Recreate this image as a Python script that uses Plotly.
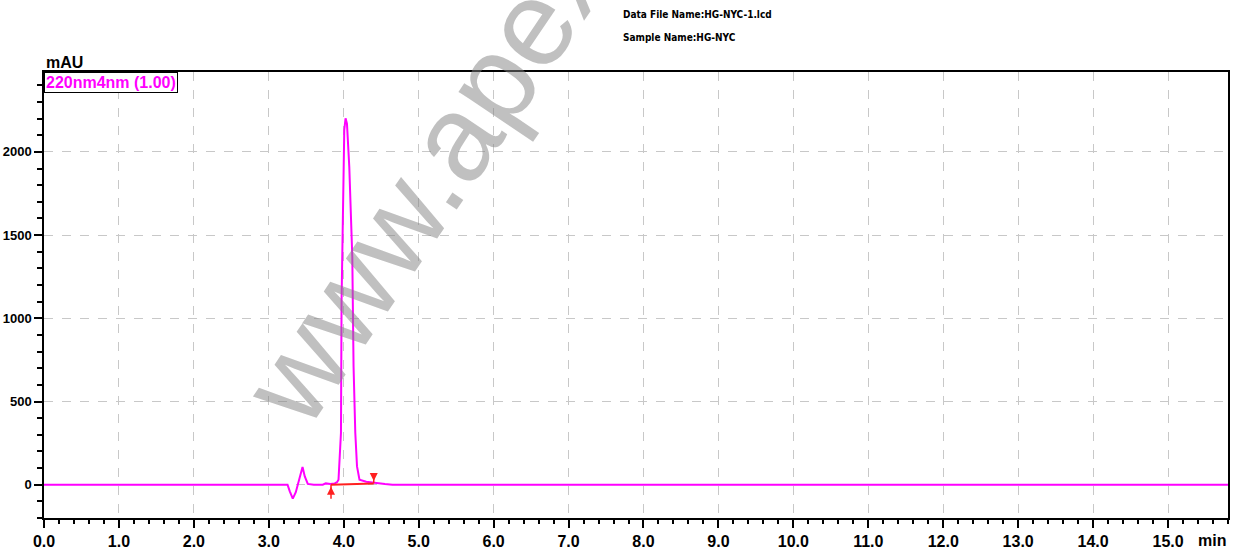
import plotly.graph_objects as go

# ---- data ----
time_min = [0.0, 3.20, 3.25, 3.28, 3.32, 3.36, 3.40, 3.43, 3.45, 3.48, 3.52, 3.60,
            3.72, 3.76, 3.82, 3.88, 3.91, 3.93, 3.963, 3.971, 3.99, 4.007, 4.024,
            4.043, 4.074, 4.114, 4.131, 4.154, 4.177, 4.21, 4.30, 4.42, 4.55, 4.65, 15.8]
absorbance_mau = [0, 0, 0, -40, -84, -45, 30, 85, 106, 50, 5, 0,
                  0, 8, 4, 8, 15, 30, 312, 1110, 1850, 2130, 2202,
                  2170, 1910, 1370, 710, 312, 110, 30, 18, 10, 4, 0, 0]

baseline_t = [3.83, 4.40]
baseline_mau = [0, 8]

x_ticks = [i * 1.0 for i in range(16)]
x_ticklabels = [f"{v:.1f}" for v in x_ticks]
y_ticks = [0, 500, 1000, 1500, 2000]
y_ticklabels = [str(v) for v in y_ticks]

header_lines = ["Data File Name:HG-NYC-1.lcd", "Sample Name:HG-NYC"]
channel_label = "220nm4nm (1.00)"

MAG = "#ff00ff"
RED = "#ff2020"
FONT = "Liberation Sans, Arial, sans-serif"
NARROW = "Liberation Sans Narrow, DejaVu Sans Condensed, Liberation Sans, sans-serif"

fig = go.Figure()

fig.add_trace(go.Scatter(x=time_min, y=absorbance_mau, mode="lines",
                         line=dict(color=MAG, width=2), hoverinfo="skip",
                         showlegend=False))
# integration baseline
fig.add_trace(go.Scatter(x=baseline_t, y=baseline_mau, mode="lines",
                         line=dict(color=RED, width=2), showlegend=False,
                         hoverinfo="skip"))
# peak start marker (arrow up from below), peak end marker (arrow down from above)
fig.add_trace(go.Scatter(x=[baseline_t[0], baseline_t[0]],
                         y=[baseline_mau[0] - 85, baseline_mau[0]],
                         mode="lines", line=dict(color=RED, width=1.5),
                         showlegend=False, hoverinfo="skip"))
fig.add_trace(go.Scatter(x=[baseline_t[1], baseline_t[1]],
                         y=[baseline_mau[1] + 55, baseline_mau[1]],
                         mode="lines", line=dict(color=RED, width=1.5),
                         showlegend=False, hoverinfo="skip"))
fig.add_trace(go.Scatter(x=[baseline_t[0]], y=[baseline_mau[0] - 12], mode="markers",
                         marker=dict(symbol="arrow-up", size=8, color=RED),
                         showlegend=False, hoverinfo="skip"))
fig.add_trace(go.Scatter(x=[baseline_t[1]], y=[baseline_mau[1] + 14], mode="markers",
                         marker=dict(symbol="arrow-down", size=8, color=RED),
                         showlegend=False, hoverinfo="skip"))

fig.update_xaxes(range=[0, 15.8], tickmode="array", tickvals=x_ticks,
                 ticktext=x_ticklabels, ticks="outside", ticklen=8, tickwidth=1.5,
                 tickcolor="black", showline=True, linecolor="black", linewidth=1.5,
                 mirror=True, showgrid=True, gridcolor="#c8c8c8", griddash="dash",
                 gridwidth=1, zeroline=False,
                 tickfont=dict(family=FONT, size=16, color="black", weight="bold"),
                 minor=dict(dtick=0.2, ticks="outside", ticklen=4, tickwidth=1.5,
                            tickcolor="black", showgrid=False))
fig.update_yaxes(range=[-200, 2480], tickmode="array", tickvals=y_ticks,
                 ticktext=y_ticklabels, ticks="outside", ticklen=8, tickwidth=1.5,
                 tickcolor="black", showline=True, linecolor="black", linewidth=1.5,
                 mirror=True, showgrid=True, gridcolor="#c8c8c8", griddash="dash",
                 gridwidth=1, zeroline=False, ticklabelstandoff=0,
                 tickfont=dict(family=FONT, size=13, color="black", weight="bold"),
                 minor=dict(dtick=100, tick0=0, ticks="outside", ticklen=5, tickwidth=1.5,
                            tickcolor="black", showgrid=False))

annotations = [
    dict(text=header_lines[0], x=0.487, y=1.13, xref="paper", yref="paper",
         xanchor="left", yanchor="middle", showarrow=False,
         font=dict(family=NARROW, size=10, color="black", weight="bold")),
    dict(text=header_lines[1], x=0.487, y=1.078, xref="paper", yref="paper",
         xanchor="left", yanchor="middle", showarrow=False,
         font=dict(family=NARROW, size=10, color="black", weight="bold")),
    dict(text="mAU", x=0.0, y=1.0, xref="paper", yref="paper", xanchor="left",
         yanchor="bottom", yshift=-1, showarrow=False,
         font=dict(family=FONT, size=16, color="black", weight="bold")),
    dict(text="min", x=1.0, y=0, xref="paper", yref="paper", xanchor="right",
         yanchor="top", yshift=-12, showarrow=False,
         font=dict(family=FONT, size=16, color="black", weight="bold")),
    dict(text=channel_label, x=0.0, y=1.0, xref="paper", yref="paper",
         xanchor="left", yanchor="top", showarrow=False, bgcolor="white",
         bordercolor="black", borderwidth=1, borderpad=1,
         font=dict(family=FONT, size=16, color=MAG, weight="bold")),
    dict(text="www.apexbt.com", x=0.41, y=1.10, xref="paper", yref="paper",
         xanchor="center", yanchor="middle", textangle=-56, showarrow=False,
         font=dict(family=FONT, size=122, color="rgba(130,130,130,0.5)")),
]

fig.update_layout(width=1236, height=554, autosize=False,
                  margin=dict(l=44, r=8, t=72, b=36, pad=0, autoexpand=False),
                  paper_bgcolor="white", plot_bgcolor="white",
                  annotations=annotations, showlegend=False)

fig.write_html("out.html", config={"displayModeBar": False},
               post_script="document.body.style.margin='0px';document.body.style.overflow='hidden';")
